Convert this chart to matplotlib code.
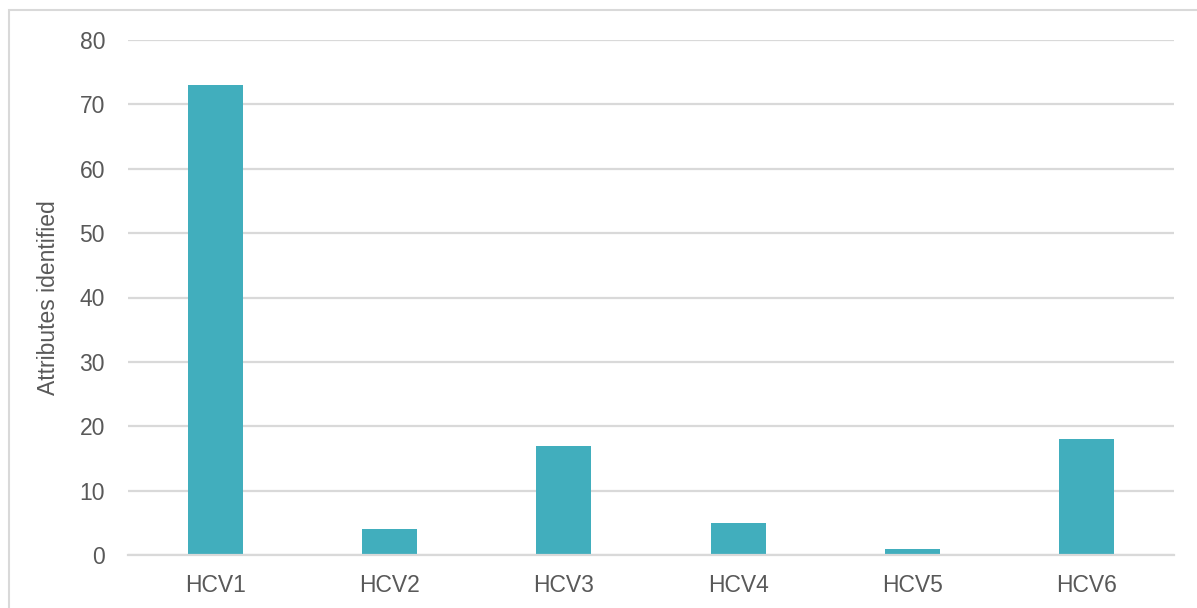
import matplotlib.pyplot as plt
from matplotlib.patches import Rectangle

plt.rcParams['font.family'] = ['Liberation Sans', 'DejaVu Sans']

categories = ['HCV1', 'HCV2', 'HCV3', 'HCV4', 'HCV5', 'HCV6']
attributes = [73, 4, 17, 5, 1, 18]
y_ticks = [0, 10, 20, 30, 40, 50, 60, 70, 80]

text_color = '#595959'
grid_color = '#D9D9D9'
bar_color = '#41AEBD'

fig = plt.figure(figsize=(11.97, 6.08), dpi=100)
ax = fig.add_axes([128 / 1197, 1 - 555 / 608, (1174 - 128) / 1197, (555 - 40) / 608])

ax.bar(categories, attributes, width=0.315, color=bar_color, zorder=3)

ax.set_xlim(-0.5, len(categories) - 0.5)
ax.set_ylim(0, 80)
ax.set_yticks(y_ticks)
ax.yaxis.grid(True, color=grid_color, linewidth=1.6, zorder=0)
ax.set_axisbelow(True)

for side in ['top', 'right', 'left']:
    ax.spines[side].set_visible(False)
ax.spines['bottom'].set_color(grid_color)
ax.spines['bottom'].set_linewidth(1.6)
ax.spines['bottom'].set_zorder(4)

ax.tick_params(axis='both', length=0, labelsize=16.5, colors=text_color)
ax.tick_params(axis='y', pad=16.5)
ax.tick_params(axis='x', pad=14)
ax.set_ylabel('Attributes identified', fontsize=16.5, color=text_color, labelpad=14)

# outer chart border
fig.patches.append(Rectangle((8.5 / 1197, -0.1), 1.2, 1.1 - 10.5 / 608,
                             transform=fig.transFigure, fill=False,
                             edgecolor=grid_color, linewidth=1.5))

fig.savefig('out.png', dpi=100)
